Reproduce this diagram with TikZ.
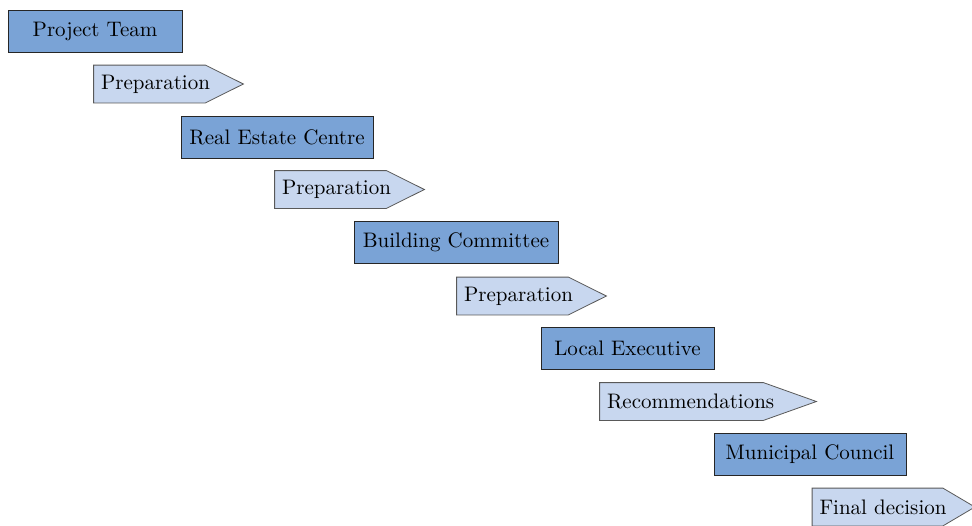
\documentclass[tikz,border=0pt]{standalone}
\usetikzlibrary{backgrounds}

\definecolor{phasefill}{RGB}{122,163,214}
\definecolor{stepfill}{RGB}{200,215,239}

\tikzset{
  phase/.style={draw=black!85,fill=phasefill,minimum height=21pt,inner sep=0pt,
    font=\fontsize{10.5}{12}\selectfont},
  stage/.style={text width=#1,align=left,inner xsep=3.5pt,inner ysep=0pt,minimum height=18.5pt,
    font=\fontsize{10.5}{12}\selectfont}
}

\begin{document}
\begin{tikzpicture}[x=0.5pt,y=-0.5pt]
\useasboundingbox (0,0) rectangle (972,525);

\node[phase,minimum width=87pt] (team) at (95,31) {Project Team};
\node[stage=67.5pt] (prepA) at (168.5,84) {Preparation};
\node[phase,minimum width=96pt] (estate) at (277,137) {Real Estate Centre};
\node[stage=67.5pt] (prepB) at (349.5,189.5) {Preparation};
\node[phase,minimum width=102pt] (committee) at (456,242.5) {Building Committee};
\node[stage=67.5pt] (prepC) at (531.5,296) {Preparation};
\node[phase,minimum width=86.5pt] (executive) at (627.5,348.5) {Local Executive};
\node[stage=101pt] (recomm) at (708,401.5) {Recommendations};
\node[phase,minimum width=96pt] (council) at (810,454.5) {Municipal Council};
\node[stage=74pt] (final) at (893.5,507) {Final decision};

% arrow shapes behind the step labels
\begin{scope}[on background layer]
\foreach \n/\t in {prepA/19pt,prepB/19pt,prepC/19pt,recomm/26.5pt,final/16pt}
  \draw[draw=black!65,fill=stepfill] (\n.north west) -- ([xshift=-\t]\n.north east)
    -- (\n.east) -- ([xshift=-\t]\n.south east) -- (\n.south west) -- cycle;
\end{scope}

\end{tikzpicture}
\end{document}
